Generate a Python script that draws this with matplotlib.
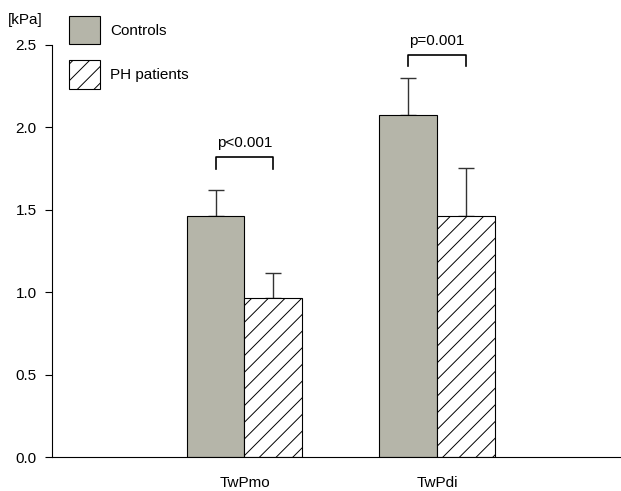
import numpy as np
import matplotlib.pyplot as plt
from matplotlib.patches import Rectangle

plt.rcParams['font.family'] = ['Liberation Sans', 'DejaVu Sans']
plt.rcParams['hatch.linewidth'] = 0.7

groups = ['TwPmo', 'TwPdi']
controls = [1.46, 2.075]
controls_err = [0.16, 0.225]
ph = [0.965, 1.465]
ph_err = [0.15, 0.29]
pvals = ['p<0.001', 'p=0.001']
bracket_y = [1.82, 2.44]

grey = '#b5b5a9'
fs = 11

fig = plt.figure(figsize=(6.21, 4.91), dpi=100)
ax = fig.add_axes([0.0837, 0.0692, 0.93, 0.8392])

x = np.arange(1, len(groups) + 1)
w = 0.3
ax.bar(x - w/2, controls, w, color=grey, edgecolor='black', linewidth=0.8, zorder=2)
ax.bar(x + w/2, ph, w, color='white', edgecolor='black', linewidth=0.8, hatch='//', zorder=2)
ax.errorbar(x - w/2, controls, yerr=[np.zeros(2), controls_err], fmt='none',
            ecolor='#333333', elinewidth=1, capsize=6, capthick=1, zorder=1)
ax.errorbar(x + w/2, ph, yerr=[np.zeros(2), ph_err], fmt='none',
            ecolor='#333333', elinewidth=1, capsize=6, capthick=1, zorder=1)

# significance brackets
for xi, by, p in zip(x, bracket_y, pvals):
    ax.plot([xi - w/2, xi - w/2, xi + w/2, xi + w/2], [by - 0.07, by, by, by - 0.07],
            color='black', lw=1.2)
    ax.text(xi, by + 0.04, p, ha='center', va='bottom', fontsize=fs)

ax.set_xlim(0, 3)
ax.set_ylim(0, 2.5)
ax.set_yticks([0, 0.5, 1.0, 1.5, 2.0, 2.5])
ax.set_yticklabels(['0.0', '0.5', '1.0', '1.5', '2.0', '2.5'], fontsize=fs)
ax.set_xticks(x)
ax.set_xticklabels(groups, fontsize=fs)
ax.tick_params(axis='x', length=0, pad=14)
ax.tick_params(axis='y', length=5, direction='out', pad=6)
ax.spines['top'].set_visible(False)
ax.spines['right'].set_visible(False)

fig.text(8/621, 1 - 24/491, '[kPa]', fontsize=fs)

# legend drawn by hand in figure coords
fig.patches.append(Rectangle((69/621, 1 - 44/491), 31/621, 28/491, transform=fig.transFigure,
                             facecolor=grey, edgecolor='black', lw=0.8))
fig.patches.append(Rectangle((69/621, 1 - 89/491), 31/621, 29/491, transform=fig.transFigure,
                             facecolor='white', edgecolor='black', lw=0.8, hatch='//'))
fig.text(110/621, 1 - 31/491, 'Controls', fontsize=fs, va='center')
fig.text(110/621, 1 - 75/491, 'PH patients', fontsize=fs, va='center')

plt.savefig('out.png', dpi=100)
